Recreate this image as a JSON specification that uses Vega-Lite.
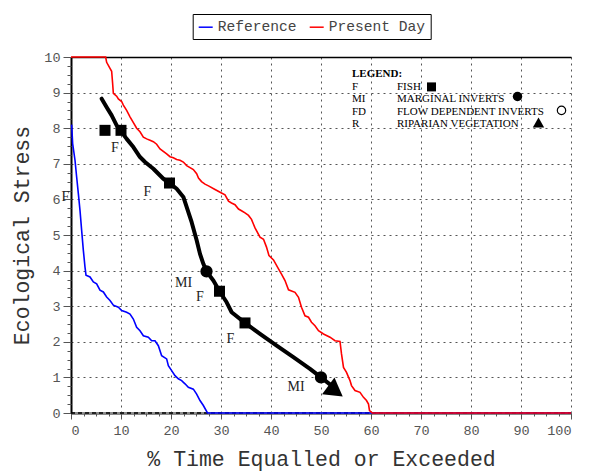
{
  "$schema": "https://vega.github.io/schema/vega-lite/v6.json",
  "width": 500,
  "height": 356,
  "autosize": {"type": "none"},
  "padding": {"left": 71, "top": 57, "right": 18, "bottom": 60},
  "background": "white",
  "config": {"view": {"stroke": null}},
  "datasets": {
    "base": [{"x": 0, "y": 0}, {"x": 100, "y": 0}],
    "reference": [
      {"x": 0.13, "y": 8.1, "series": "Reference"}, {"x": 0.33, "y": 7.57, "series": "Reference"}, {"x": 0.8, "y": 7.1, "series": "Reference"},
      {"x": 1.13, "y": 6.63, "series": "Reference"}, {"x": 1.47, "y": 6.16, "series": "Reference"}, {"x": 1.8, "y": 5.69, "series": "Reference"},
      {"x": 2.13, "y": 5.13, "series": "Reference"}, {"x": 2.47, "y": 4.57, "series": "Reference"}, {"x": 2.8, "y": 4.1, "series": "Reference"},
      {"x": 3.0, "y": 3.87, "series": "Reference"}, {"x": 3.8, "y": 3.82, "series": "Reference"}, {"x": 4.47, "y": 3.68, "series": "Reference"},
      {"x": 5.13, "y": 3.63, "series": "Reference"}, {"x": 5.8, "y": 3.45, "series": "Reference"}, {"x": 6.47, "y": 3.4, "series": "Reference"},
      {"x": 7.13, "y": 3.26, "series": "Reference"}, {"x": 7.8, "y": 3.16, "series": "Reference"}, {"x": 8.47, "y": 3.03, "series": "Reference"},
      {"x": 9.47, "y": 2.97, "series": "Reference"}, {"x": 10.13, "y": 2.88, "series": "Reference"}, {"x": 11.13, "y": 2.83, "series": "Reference"},
      {"x": 11.8, "y": 2.78, "series": "Reference"}, {"x": 12.47, "y": 2.64, "series": "Reference"}, {"x": 13.13, "y": 2.41, "series": "Reference"},
      {"x": 13.8, "y": 2.31, "series": "Reference"}, {"x": 14.47, "y": 2.17, "series": "Reference"}, {"x": 15.47, "y": 2.13, "series": "Reference"},
      {"x": 16.13, "y": 2.03, "series": "Reference"}, {"x": 16.8, "y": 2.03, "series": "Reference"}, {"x": 17.47, "y": 1.89, "series": "Reference"},
      {"x": 18.13, "y": 1.61, "series": "Reference"}, {"x": 19.13, "y": 1.52, "series": "Reference"}, {"x": 19.47, "y": 1.33, "series": "Reference"},
      {"x": 20.13, "y": 1.19, "series": "Reference"}, {"x": 20.8, "y": 1.05, "series": "Reference"}, {"x": 21.47, "y": 0.96, "series": "Reference"},
      {"x": 22.13, "y": 0.91, "series": "Reference"}, {"x": 22.8, "y": 0.82, "series": "Reference"}, {"x": 23.47, "y": 0.72, "series": "Reference"},
      {"x": 24.47, "y": 0.67, "series": "Reference"}, {"x": 25.13, "y": 0.53, "series": "Reference"}, {"x": 25.8, "y": 0.35, "series": "Reference"},
      {"x": 26.47, "y": 0.21, "series": "Reference"}, {"x": 27.3, "y": 0, "series": "Reference"}, {"x": 100, "y": 0, "series": "Reference"}
    ],
    "present": [
      {"x": 0, "y": 10, "series": "Present Day"}, {"x": 6.93, "y": 10, "series": "Present Day"}, {"x": 7.13, "y": 9.85, "series": "Present Day"},
      {"x": 7.8, "y": 9.68, "series": "Present Day"}, {"x": 8.13, "y": 9.6, "series": "Present Day"}, {"x": 8.33, "y": 9.25, "series": "Present Day"},
      {"x": 8.47, "y": 8.98, "series": "Present Day"}, {"x": 9.13, "y": 8.9, "series": "Present Day"}, {"x": 9.47, "y": 8.82, "series": "Present Day"},
      {"x": 10.13, "y": 8.75, "series": "Present Day"}, {"x": 10.47, "y": 8.65, "series": "Present Day"}, {"x": 11.13, "y": 8.5, "series": "Present Day"},
      {"x": 11.8, "y": 8.32, "series": "Present Day"}, {"x": 12.3, "y": 8.2, "series": "Present Day"}, {"x": 13.13, "y": 8.0, "series": "Present Day"},
      {"x": 13.8, "y": 7.9, "series": "Present Day"}, {"x": 14.47, "y": 7.75, "series": "Present Day"}, {"x": 15.13, "y": 7.7, "series": "Present Day"},
      {"x": 15.8, "y": 7.66, "series": "Present Day"}, {"x": 16.47, "y": 7.62, "series": "Present Day"}, {"x": 17.13, "y": 7.55, "series": "Present Day"},
      {"x": 17.8, "y": 7.42, "series": "Present Day"}, {"x": 19.13, "y": 7.28, "series": "Present Day"}, {"x": 19.8, "y": 7.2, "series": "Present Day"},
      {"x": 20.47, "y": 7.17, "series": "Present Day"}, {"x": 21.13, "y": 7.12, "series": "Present Day"}, {"x": 21.8, "y": 7.1, "series": "Present Day"},
      {"x": 22.47, "y": 7.05, "series": "Present Day"}, {"x": 23.13, "y": 6.95, "series": "Present Day"}, {"x": 24.47, "y": 6.84, "series": "Present Day"},
      {"x": 25.13, "y": 6.72, "series": "Present Day"}, {"x": 25.5, "y": 6.6, "series": "Present Day"}, {"x": 26.1, "y": 6.5, "series": "Present Day"},
      {"x": 26.8, "y": 6.43, "series": "Present Day"}, {"x": 27.5, "y": 6.38, "series": "Present Day"}, {"x": 28.8, "y": 6.28, "series": "Present Day"},
      {"x": 30.1, "y": 6.18, "series": "Present Day"}, {"x": 30.8, "y": 6.13, "series": "Present Day"}, {"x": 31.5, "y": 5.95, "series": "Present Day"},
      {"x": 32.1, "y": 5.9, "series": "Present Day"}, {"x": 32.8, "y": 5.85, "series": "Present Day"}, {"x": 33.5, "y": 5.73, "series": "Present Day"},
      {"x": 34.1, "y": 5.68, "series": "Present Day"}, {"x": 34.8, "y": 5.62, "series": "Present Day"}, {"x": 35.5, "y": 5.55, "series": "Present Day"},
      {"x": 36.1, "y": 5.44, "series": "Present Day"}, {"x": 36.5, "y": 5.3, "series": "Present Day"}, {"x": 36.8, "y": 5.2, "series": "Present Day"},
      {"x": 37.8, "y": 4.94, "series": "Present Day"}, {"x": 38.5, "y": 4.88, "series": "Present Day"}, {"x": 39.1, "y": 4.66, "series": "Present Day"},
      {"x": 39.6, "y": 4.42, "series": "Present Day"}, {"x": 40.5, "y": 4.3, "series": "Present Day"}, {"x": 41.5, "y": 4.05, "series": "Present Day"},
      {"x": 42.1, "y": 3.9, "series": "Present Day"}, {"x": 42.8, "y": 3.72, "series": "Present Day"}, {"x": 43.5, "y": 3.46, "series": "Present Day"},
      {"x": 44.8, "y": 3.39, "series": "Present Day"}, {"x": 45.5, "y": 3.25, "series": "Present Day"}, {"x": 46.1, "y": 2.97, "series": "Present Day"},
      {"x": 46.8, "y": 2.73, "series": "Present Day"}, {"x": 47.5, "y": 2.69, "series": "Present Day"}, {"x": 48.1, "y": 2.55, "series": "Present Day"},
      {"x": 48.8, "y": 2.45, "series": "Present Day"}, {"x": 49.5, "y": 2.31, "series": "Present Day"}, {"x": 50.5, "y": 2.22, "series": "Present Day"},
      {"x": 51.8, "y": 2.13, "series": "Present Day"}, {"x": 52.8, "y": 2.03, "series": "Present Day"}, {"x": 53.8, "y": 2.01, "series": "Present Day"},
      {"x": 54.1, "y": 1.66, "series": "Present Day"}, {"x": 54.5, "y": 1.28, "series": "Present Day"}, {"x": 55.1, "y": 1.14, "series": "Present Day"},
      {"x": 55.8, "y": 0.91, "series": "Present Day"}, {"x": 56.1, "y": 0.77, "series": "Present Day"}, {"x": 56.8, "y": 0.63, "series": "Present Day"},
      {"x": 57.8, "y": 0.58, "series": "Present Day"}, {"x": 58.5, "y": 0.44, "series": "Present Day"}, {"x": 59.1, "y": 0.35, "series": "Present Day"},
      {"x": 59.5, "y": 0.25, "series": "Present Day"}, {"x": 59.7, "y": 0.07, "series": "Present Day"}, {"x": 60.3, "y": 0, "series": "Present Day"},
      {"x": 100, "y": 0, "series": "Present Day"}
    ],
    "trend": [
      {"x": 6.13, "y": 8.83}, {"x": 7.13, "y": 8.59}, {"x": 8.13, "y": 8.36}, {"x": 9.13, "y": 8.08}, {"x": 10.13, "y": 7.89},
      {"x": 11.13, "y": 7.7}, {"x": 12.47, "y": 7.47}, {"x": 13.8, "y": 7.19}, {"x": 14.8, "y": 7.05}, {"x": 16.47, "y": 6.86},
      {"x": 18.47, "y": 6.58}, {"x": 19.7, "y": 6.46}, {"x": 21.13, "y": 6.3}, {"x": 22.47, "y": 6.07}, {"x": 23.47, "y": 5.64},
      {"x": 24.13, "y": 5.36}, {"x": 25.13, "y": 4.85}, {"x": 25.8, "y": 4.47}, {"x": 26.47, "y": 4.19}, {"x": 27.13, "y": 3.97},
      {"x": 28.47, "y": 3.72}, {"x": 29.7, "y": 3.42}, {"x": 31.13, "y": 3.11}, {"x": 32.13, "y": 2.83}, {"x": 34.8, "y": 2.53},
      {"x": 37.8, "y": 2.22}, {"x": 41.13, "y": 1.89}, {"x": 44.47, "y": 1.57}, {"x": 47.8, "y": 1.24}, {"x": 50, "y": 1.0},
      {"x": 52.3, "y": 0.75}
    ],
    "arrow": [{"x": 52.9, "y": 0.61}],
    "fish": [
      {"x": 6.8, "y": 7.94}, {"x": 10, "y": 7.94}, {"x": 19.7, "y": 6.46}, {"x": 29.7, "y": 3.42}, {"x": 34.8, "y": 2.53}
    ],
    "inverts": [{"x": 27.1, "y": 3.98}, {"x": 50, "y": 1.0}],
    "labels": [
      {"x": 8.8, "y": 7.45, "text": "F"}, {"x": 15.3, "y": 6.21, "text": "F"}, {"x": -1.1, "y": 6.07, "text": "F"},
      {"x": 22.5, "y": 3.66, "text": "MI"}, {"x": 25.8, "y": 3.25, "text": "F"}, {"x": 31.9, "y": 2.08, "text": "F"},
      {"x": 45, "y": 0.73, "text": "MI"}
    ],
    "keyTitle": [{"x": 56.2, "y": 9.52, "text": "LEGEND:"}],
    "keyText": [
      {"x": 56.2, "y": 9.16, "text": "F"}, {"x": 65.2, "y": 9.16, "text": "FISH"},
      {"x": 56.2, "y": 8.81, "text": "MI"}, {"x": 65.2, "y": 8.81, "text": "MARGINAL INVERTS"},
      {"x": 56.2, "y": 8.46, "text": "FD"}, {"x": 65.2, "y": 8.46, "text": "FLOW DEPENDENT INVERTS"},
      {"x": 56.2, "y": 8.11, "text": "R"}, {"x": 65.2, "y": 8.11, "text": "RIPARIAN VEGETATION"}
    ],
    "keySymbols": [
      {"x": 72.1, "y": 9.16, "group": "F"}, {"x": 89.3, "y": 8.89, "group": "MI"},
      {"x": 98.1, "y": 8.5, "group": "FD"}, {"x": 93.5, "y": 8.16, "group": "R"}
    ]
  },
  "encoding": {
    "x": {"field": "x", "type": "quantitative", "scale": {"domain": [0, 100], "nice": false}},
    "y": {"field": "y", "type": "quantitative", "scale": {"domain": [0, 10], "nice": false}}
  },
  "layer": [
    {
      "data": {"name": "base"},
      "mark": {"type": "line", "color": "black", "strokeWidth": 1.5, "strokeDash": [4, 3]},
      "encoding": {
        "x": {"field": "x", "type": "quantitative", "axis": {"orient": "top", "domain": true, "domainColor": "black", "domainWidth": 1.5, "ticks": false, "labels": false, "grid": false, "title": null}},
        "y": {"field": "y", "type": "quantitative", "axis": null}
      }
    },
    {
      "data": {"name": "reference"},
      "mark": {"type": "line", "strokeWidth": 1.6},
      "encoding": {
        "x": {"field": "x", "type": "quantitative", "axis": {
          "orient": "bottom", "values": [0, 10, 20, 30, 40, 50, 60, 70, 80, 90, 100],
          "grid": true, "gridDash": [2, 4], "gridColor": "#555", "gridWidth": 1,
          "domainColor": "#8a8a8a", "domainWidth": 3, "tickColor": "#555", "tickSize": 6,
          "labelFont": "Liberation Mono", "labelFontSize": 13.5, "labelColor": "#555", "labelPadding": 4,
          "title": "% Time Equalled or Exceeded", "titleFont": "Liberation Mono", "titleFontSize": 21.5,
          "titleFontWeight": "normal", "titleColor": "#333", "titlePadding": 12}},
        "y": {"field": "y", "type": "quantitative", "axis": {
          "orient": "left", "values": [0, 1, 2, 3, 4, 5, 6, 7, 8, 9, 10],
          "grid": true, "gridDash": [2, 4], "gridColor": "#555", "gridWidth": 1,
          "domainColor": "black", "domainWidth": 2, "tickColor": "#555", "tickSize": 8,
          "labelFont": "Liberation Mono", "labelFontSize": 13.5, "labelColor": "#555", "labelPadding": 3,
          "title": "Ecological Stress", "titleFont": "Liberation Mono", "titleFontSize": 21.5,
          "titleFontWeight": "normal", "titleColor": "#333", "titlePadding": 10}},
        "color": {"field": "series", "type": "nominal",
          "scale": {"domain": ["Reference", "Present Day"], "range": ["#0000ff", "#ff0000"]},
          "legend": {"orient": "none", "legendX": 121.7, "legendY": -43, "direction": "horizontal", "title": null,
            "symbolType": "stroke", "symbolSize": 196, "symbolStrokeWidth": 1.5,
            "labelFont": "Liberation Mono", "labelFontSize": 14.6, "labelColor": "#444",
            "strokeColor": "#000", "fillColor": "white", "padding": 5, "columnPadding": 10, "labelOffset": 4}}
      }
    },
    {
      "data": {"name": "present"},
      "mark": {"type": "line", "strokeWidth": 1.6},
      "encoding": {
        "x": {"field": "x", "type": "quantitative", "axis": {
          "orient": "bottom", "values": [0, 2.5, 5, 7.5, 10, 12.5, 15, 17.5, 20, 22.5, 25, 27.5, 30, 32.5, 35, 37.5, 40, 42.5, 45, 47.5, 50, 52.5, 55, 57.5, 60, 62.5, 65, 67.5, 70, 72.5, 75, 77.5, 80, 82.5, 85, 87.5, 90, 92.5, 95, 97.5, 100],
          "labels": false, "grid": false, "domain": false, "tickSize": 3, "tickColor": "#555", "title": null}},
        "y": {"field": "y", "type": "quantitative", "axis": {
          "orient": "left", "values": [0, 0.25, 0.5, 0.75, 1, 1.25, 1.5, 1.75, 2, 2.25, 2.5, 2.75, 3, 3.25, 3.5, 3.75, 4, 4.25, 4.5, 4.75, 5, 5.25, 5.5, 5.75, 6, 6.25, 6.5, 6.75, 7, 7.25, 7.5, 7.75, 8, 8.25, 8.5, 8.75, 9, 9.25, 9.5, 9.75, 10],
          "labels": false, "grid": false, "domain": false, "tickSize": 4, "tickColor": "#555", "title": null}},
        "color": {"field": "series", "type": "nominal",
          "scale": {"domain": ["Reference", "Present Day"], "range": ["#0000ff", "#ff0000"]},
          "legend": {"orient": "none", "legendX": 121.7, "legendY": -43, "direction": "horizontal", "title": null,
            "symbolType": "stroke", "symbolSize": 196, "symbolStrokeWidth": 1.5,
            "labelFont": "Liberation Mono", "labelFontSize": 14.6, "labelColor": "#444",
            "strokeColor": "#000", "fillColor": "white", "padding": 5, "columnPadding": 10, "labelOffset": 4}}
      }
    },
    {
      "data": {"name": "trend"},
      "mark": {"type": "line", "color": "black", "strokeWidth": 4, "strokeCap": "round", "strokeJoin": "round"},
      "encoding": {
        "x": {"field": "x", "type": "quantitative", "axis": null},
        "y": {"field": "y", "type": "quantitative", "axis": null}
      }
    },
    {
      "data": {"name": "arrow"},
      "mark": {"type": "point", "shape": "triangle-up", "filled": true, "color": "black", "opacity": 1, "size": 430, "angle": 126.5},
      "encoding": {
        "x": {"field": "x", "type": "quantitative", "axis": null},
        "y": {"field": "y", "type": "quantitative", "axis": null}
      }
    },
    {
      "data": {"name": "fish"},
      "mark": {"type": "point", "shape": "square", "filled": true, "color": "black", "opacity": 1, "size": 121},
      "encoding": {
        "x": {"field": "x", "type": "quantitative", "axis": null},
        "y": {"field": "y", "type": "quantitative", "axis": null}
      }
    },
    {
      "data": {"name": "inverts"},
      "mark": {"type": "point", "shape": "circle", "filled": true, "color": "black", "opacity": 1, "size": 150},
      "encoding": {
        "x": {"field": "x", "type": "quantitative", "axis": null},
        "y": {"field": "y", "type": "quantitative", "axis": null}
      }
    },
    {
      "data": {"name": "labels"},
      "mark": {"type": "text", "font": "Liberation Serif", "fontSize": 14, "color": "#222", "align": "center", "baseline": "middle"},
      "encoding": {
        "x": {"field": "x", "type": "quantitative", "axis": null},
        "y": {"field": "y", "type": "quantitative", "axis": null},
        "text": {"field": "text"}
      }
    },
    {
      "data": {"name": "keyTitle"},
      "mark": {"type": "text", "font": "Liberation Serif", "fontSize": 11, "fontWeight": "bold", "color": "black", "align": "left", "baseline": "middle"},
      "encoding": {
        "x": {"field": "x", "type": "quantitative", "axis": null},
        "y": {"field": "y", "type": "quantitative", "axis": null},
        "text": {"field": "text"}
      }
    },
    {
      "data": {"name": "keyText"},
      "mark": {"type": "text", "font": "Liberation Serif", "fontSize": 11, "color": "black", "align": "left", "baseline": "middle"},
      "encoding": {
        "x": {"field": "x", "type": "quantitative", "axis": null},
        "y": {"field": "y", "type": "quantitative", "axis": null},
        "text": {"field": "text"}
      }
    },
    {
      "data": {"name": "keySymbols"},
      "transform": [{"filter": "datum.group === 'F'"}],
      "mark": {"type": "point", "shape": "square", "filled": true, "color": "black", "opacity": 1, "size": 81},
      "encoding": {
        "x": {"field": "x", "type": "quantitative", "axis": null},
        "y": {"field": "y", "type": "quantitative", "axis": null}
      }
    },
    {
      "data": {"name": "keySymbols"},
      "transform": [{"filter": "datum.group === 'MI'"}],
      "mark": {"type": "point", "shape": "circle", "filled": true, "color": "black", "opacity": 1, "size": 90},
      "encoding": {
        "x": {"field": "x", "type": "quantitative", "axis": null},
        "y": {"field": "y", "type": "quantitative", "axis": null}
      }
    },
    {
      "data": {"name": "keySymbols"},
      "transform": [{"filter": "datum.group === 'FD'"}],
      "mark": {"type": "point", "shape": "circle", "filled": false, "color": "black", "opacity": 1, "size": 70, "strokeWidth": 1.2},
      "encoding": {
        "x": {"field": "x", "type": "quantitative", "axis": null},
        "y": {"field": "y", "type": "quantitative", "axis": null}
      }
    },
    {
      "data": {"name": "keySymbols"},
      "transform": [{"filter": "datum.group === 'R'"}],
      "mark": {"type": "point", "shape": "triangle-up", "filled": true, "color": "black", "opacity": 1, "size": 130},
      "encoding": {
        "x": {"field": "x", "type": "quantitative", "axis": null},
        "y": {"field": "y", "type": "quantitative", "axis": null}
      }
    }
  ],
  "resolve": {"axis": {"x": "independent", "y": "independent"}}
}
